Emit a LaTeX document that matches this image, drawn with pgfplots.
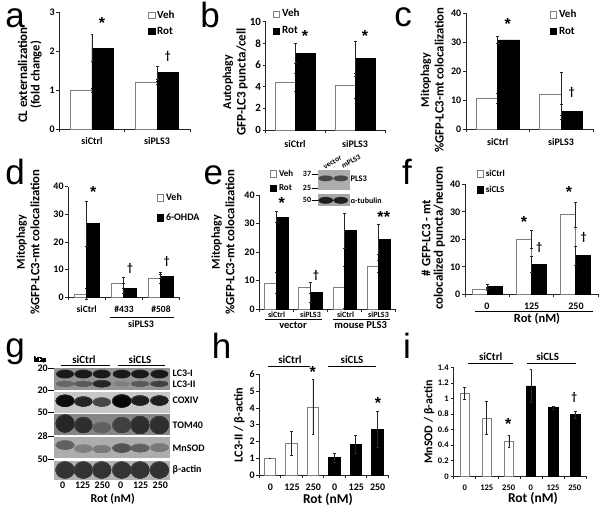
\documentclass[border=0pt]{standalone}
\usepackage{fontspec}
\setmainfont{Carlito}
\newfontfamily\arial{Liberation Sans}
\usepackage{pgfplots}
\pgfplotsset{compat=1.18}
\newcommand\fs[1]{\fontsize{#1}{#1}\selectfont}
\colorlet{bandin}{black}
\colorlet{bandout}{gray}
\pgfdeclareradialshading[bandin,bandout]{band}{\pgfpointorigin}{color(0bp)=(bandin); color(22bp)=(bandin); color(47bp)=(bandout); color(50bp)=(bandout)}
\newcommand\bnd[6]{% x y rx ry dark bg
 \colorlet{bandin}{black!#5}\colorlet{bandout}{black!#6}%
 \shade[shading=band] (#1,#2) ellipse (#3 and #4);}
\pgfplotsset{
 panel/.style={scale only axis, axis x line=bottom, axis y line=left,
  axis line style={-,line width=.7pt,black!85},
  tick style={black!85,line width=.6pt}, major tick length=3pt, tick align=outside,
  xticklabels={}, ymin=0, clip=false, scaled ticks=false,
  /pgf/number format/assume math mode=true,
  yticklabel style={font=\bfseries\fs{10}, inner sep=1.5pt},
  legend style={draw=none, fill=none, inner sep=0pt, outer sep=0pt, font=\bfseries\fs{11},
   column sep=2pt, cells={anchor=west}, nodes={inner sep=0pt, text height=7pt, text depth=2pt}}},
 lg/.style n args={3}{legend style={at={(#1,#2)},anchor=north west,row sep=#3pt}},
 base/.style={ybar, line width=.8pt, bar width=#1pt,
  legend image code/.code={\draw[##1,line width=.6pt] (0pt,-3pt) rectangle (6.5pt,3.5pt);},
  error bars/y dir=both, error bars/y explicit,
  error bars/error bar style={black!85,line width=.7pt,solid},
  error bars/error mark options={rotate=90,mark size=1.4pt,black!85,line width=.5pt}},
 veh/.style={base=#1, bar shift={-0.5*#1pt}, draw=black!50, fill=white},
 rot/.style={base=#1, bar shift={0.5*#1pt}, draw=black, fill=black},
 wh/.style={base=#1, bar shift=0pt, draw=black!50, fill=white},
 bl/.style={base=#1, bar shift=0pt, draw=black, fill=black},
}
\tikzset{
 t/.style={inner sep=0pt,outer sep=0pt,font=\bfseries\fs{#1}},
 t/.default=9,
 tl/.style={t=#1,anchor=west},
 lt/.style={inner sep=0pt,anchor=base,font=\arial\fs{35}},
}
\newcommand\st[2]{\node[inner sep=0pt,font=\arial\bfseries\fs{16}] at (#1,#2) {\raisebox{-3.5pt}{*}};}
\newcommand\dg[2]{\node[inner sep=0pt,font=\bfseries\fs{11.5}] at (#1,#2) {†};}
\begin{document}
\begin{tikzpicture}
\useasboundingbox (0,0) rectangle (600pt,511pt);
% a
\begin{axis}[panel, at={(59.3pt,382pt)}, width=130.7pt, height=116.7pt, xmin=-0.5, xmax=1.5, ymax=3, ytick={0,1,2,3}, xtick={-0.5,0.5,1.5}, lg={0.679}{1.011}{7}]
\addplot[veh=21.5] coordinates {(0,1.00) +- (0,0.05) (1,1.20) +- (0,0.04)};
\addplot[rot=21.5] coordinates {(0,2.08) +- (0,0.35) (1,1.45) +- (0,0.16)};
\legend{Veh,Rot}
\end{axis}
% b
\begin{axis}[panel, at={(265.7pt,381pt)}, width=119.3pt, height=108.3pt, xmin=-0.5, xmax=1.5, ymax=10, ytick={0,2,4,6,8,10}, xtick={-0.5,0.5,1.5}, lg={0.061}{1.108}{8}, yticklabel style={font=\bfseries\fs{11}}]
\addplot[veh=20] coordinates {(0,4.4) +- (0,0.85) (1,4.1) +- (0,1.15)};
\addplot[rot=20] coordinates {(0,7.1) +- (0,0.9) (1,6.6) +- (0,1.6)};
\legend{Veh,Rot}
\end{axis}
% c
\begin{axis}[panel, at={(466pt,381.7pt)}, width=127pt, height=116pt, xmin=-0.5, xmax=1.5, ymax=40, ytick={0,10,20,30,40}, xtick={-0.5,0.5,1.5}, lg={0.661}{1.022}{7.5}]
\addplot[veh=21.5] coordinates {(0,10.8) +- (0,1.8) (1,12.2) +- (0,7.4)};
\addplot[rot=21.5] coordinates {(0,30.8) +- (0,1.3) (1,6.2) +- (0,2.6)};
\legend{Veh,Rot}
\end{axis}
% d
\begin{axis}[panel, at={(68.3pt,213.7pt)}, width=111pt, height=110.6pt, xmin=-0.5, xmax=2.5, ymax=40, ytick={0,10,20,30,40}, xtick={-0.5,0.5,1.5,2.5}, lg={0.799}{0.94}{11}, legend style={font=\bfseries\fs{10}}]
\addplot[veh=12.5] coordinates {(0,1.2) +- (0,2.0) (1,5.2) +- (0,2.0) (2,7.0) +- (0,1.9)};
\addplot[rot=12.5] coordinates {(0,26.6) +- (0,8.3) (1,3.3) +- (0,1.9) (2,7.6) +- (0,0.8)};
\legend{Veh,6-OHDA}
\end{axis}
% e
\begin{axis}[panel, at={(259.3pt,201.7pt)}, width=136.4pt, height=114.3pt, xmin=-0.5, xmax=3.5, ymax=40, ytick={0,10,20,30,40}, xtick={-0.5,0.5,1.5,2.5,3.5}, lg={0.078}{1.223}{5.3}, legend style={font=\bfseries\fs{9}}]
\addplot[veh=11.6] coordinates {(0,9.2) +- (0,3.6) (1,7.6) +- (0,1.9) (2,7.8) +- (0,7.4) (3,15.0) +- (0,2.0)};
\addplot[rot=11.6] coordinates {(0,32.3) +- (0,2.0) (1,5.8) +- (0,3.5) (2,27.5) +- (0,6.1) (3,24.5) +- (0,5.2)};
\legend{Veh,Rot}
\end{axis}
% f
\begin{axis}[panel, at={(465pt,216.7pt)}, width=133pt, height=110pt, xmin=-0.5, xmax=2.5, ymax=40, ytick={0,10,20,30,40}, xtick={-0.5,0.5,1.5,2.5}, lg={0.088}{1.135}{7}, legend style={font=\bfseries\fs{9}}]
\addplot[veh=15] coordinates {(0,1.9) +- (0,0.5) (1,20.0) +- (0,3.2) (2,29.0) +- (0,4.6)};
\addplot[rot=15] coordinates {(0,3.0) +- (0,0.8) (1,10.8) +- (0,2.9) (2,14.0) +- (0,3.3)};
\legend{siCtrl,siCLS}
\end{axis}
% h
\begin{axis}[panel, at={(259.3pt,36pt)}, width=128.7pt, height=100.7pt, xmin=-0.5, xmax=5.5, ymax=6, ytick={0,1,2,3,4,5,6}, xtick={-0.5,0.5,1.5,2.5,3.5,4.5,5.5}]
\addplot[wh=11.3] coordinates {(0,1.00) +- (0,0.02) (1,1.88) +- (0,0.70) (2,4.05) +- (0,1.65)};
\addplot[bl=11.3] coordinates {(3,1.03) +- (0,0.26) (4,1.83) +- (0,0.51) (5,2.72) +- (0,1.07)};
\end{axis}
% i
\begin{axis}[panel, at={(453.5pt,34.7pt)}, width=133pt, height=109pt, xmin=-0.5, xmax=5.5, ymax=1.4, ytick={0,0.2,0.4,0.6,0.8,1,1.2,1.4}, yticklabels={0,0.2,0.4,0.6,0.8,1,1.2,1.4}, xtick={-0.5,0.5,1.5,2.5,3.5,4.5,5.5}, yticklabel style={font=\bfseries\fs{8.5}}]
\addplot[wh=9.3] coordinates {(0,1.07) +- (0,0.08) (1,0.75) +- (0,0.21) (2,0.45) +- (0,0.08)};
\addplot[bl=9.3] coordinates {(3,1.16) +- (0,0.21) (4,0.88) +- (0,0.015) (5,0.79) +- (0,0.05)};
\end{axis}
% annotations in reference pixel coordinates
\begin{scope}[x=1pt,y=-1pt,yshift=511pt]
% panel letters
\foreach \lett/\x/\y in {a/15/27.3,b/210/27.3,c/403/26.7,d/15/185,e/213.3/185,f/407/185,g/15/358,h/221.7/359,i/407/359}
 \node[lt] at (\x,\y) {\lett};
% y labels
\node[t=13,rotate=90] at (22.7,75) {CL externalization};
\node[t=12.5,rotate=90] at (36,75) {(fold change)};
\node[t=12,rotate=90] at (228,82) {Autophagy};
\node[t=13,rotate=90] at (242,82) {GFP-LC3 puncta/cell};
\node[t=12,rotate=90] at (426,80) {Mitophagy};
\node[t=12.7,rotate=90] at (439.3,80) {\%GFP-LC3-mt colocalization};
\node[t=12,rotate=90] at (21.7,242) {Mitophagy};
\node[t=12.7,rotate=90] at (35,242) {\%GFP-LC3-mt colocalization};
\node[t=12,rotate=90] at (216.7,242) {Mitophagy};
\node[t=12.7,rotate=90] at (230,242) {\%GFP-LC3-mt colocalization};
\node[t=12.7,rotate=90] at (426,238) {\# GFP-LC3 - mt};
\node[t=13,rotate=90] at (439.3,238) {colocalized puncta/neuron};
\node[t=12.3,rotate=90] at (239.3,425) {LC3-II / β-actin};
\node[t=12,rotate=90] at (429,422) {MnSOD / β-actin};
% category labels
\node[t=10] at (92,140.7) {siCtrl};
\node[t=10] at (157,140.7) {siPLS3};
\node[t=10] at (295,144) {siCtrl};
\node[t=10] at (355,144) {siPLS3};
\node[t=10] at (497.7,142.3) {siCtrl};
\node[t=10] at (561,142.3) {siPLS3};
\node[t=9.5] at (86.7,309) {siCtrl};
\node[t=9.5] at (124,309) {\#433};
\node[t=9.5] at (161,309) {\#508};
\draw[line width=.7pt] (110,317.7) -- (174.3,317.7);
\node[t=10] at (141,324.5) {siPLS3};
\node[t=8] at (276.5,314.3) {siCtrl};
\node[t=8] at (310.5,314.3) {siPLS3};
\node[t=8] at (345.5,314.3) {siCtrl};
\node[t=8] at (378.5,314.3) {siPLS3};
\draw[line width=.7pt] (265,319) -- (322,319);
\draw[line width=.7pt] (333,319) -- (390,319);
\node[t=10.5] at (293,325.5) {vector};
\node[t=10.6] at (360.7,325.5) {mouse PLS3};
\foreach \x/\s in {487/0,531.7/125,576/250} \node[t=10] at (\x,306) {\s};
\draw[line width=.7pt] (475,311) -- (593,311);
\node[t=12.5] at (537,318.5) {Rot (nM)};
% h, i labels
\foreach \x/\s in {270.5/0,292/125,313.3/250,334.7/0,356.3/125,377.7/250} \node[t=10] at (\x,487) {\s};
\node[t=13.5] at (328,500) {Rot (nM)};
\node[t=11] at (290,360) {siCtrl};
\node[t=11] at (352,360) {siCLS};
\draw[line width=.7pt] (268,366) -- (310,366);
\draw[line width=.7pt] (328,366) -- (376,366);
\foreach \x/\s in {464.7/0,486.8/125,508.7/250,530.8/0,553/125,574.8/250} \node[t=8.5] at (\x,487.7) {\s};
\node[t=13.5] at (533,498.5) {Rot (nM)};
\node[t=11] at (490.7,357) {siCtrl};
\node[t=11] at (547.7,357) {siCLS};
\draw[line width=.7pt] (467.7,363.3) -- (513.3,363.3);
\draw[line width=.7pt] (526.7,363.3) -- (576,363.3);
% significance marks
\st{102}{22.7}\dg{167.7}{56.7}
\st{305}{36}\st{365}{36}
\st{507.7}{24.3}\dg{571.7}{92.7}
\st{93.3}{191.7}\dg{130}{268.3}\dg{166.7}{261}
\st{281.7}{203.3}\dg{316}{275}\st{380.5}{217.3}\st{387}{217.3}
\st{524}{222.3}\dg{539.3}{247.7}\st{569}{192.3}\dg{583.7}{237.3}
\st{312.7}{372.3}\st{378}{402.7}
\st{508.3}{424.3}\dg{574.3}{397.7}
% blot e inset
\fill[black!32] (318.3,170) rectangle (350,190);
\fill[black!35] (318.3,194.3) rectangle (350,206);
\foreach \x in {325.7,340.7} {\bnd{\x}{178.3}{7.4}{3}{72}{32}\bnd{\x}{200.3}{7.4}{3.5}{88}{35}}
\node[t=7.5,rotate=30] at (332.5,162.3) {vector};
\node[t=7.5,rotate=30] at (351,161.7) {mPLS3};
\node[tl=8.5] at (350.5,178.5) {PLS3};
\node[tl=8] at (350.5,200.7) {α-tubulin};
\foreach \y/\s in {174/37,188.3/25,200/50} {\node[t=8] at (307,\y) {\s}; \draw[line width=.5pt] (311.5,\y) -- (318,\y);}
% blot g
\fill[black!42] (54,368.3) rectangle (170,390);
\fill[black!22] (54,391.7) rectangle (170,412.7);
\fill[black!48] (54,414.3) rectangle (170,435);
\fill[black!32] (54,436.7) rectangle (170,458.3);
\fill[black!30] (54,461) rectangle (170,480);
\foreach \x in {65,83.3,101.7,121.7,140,159.3} \bnd{\x}{374}{9}{4.5}{90}{42}
\bnd{65}{383.7}{9}{2.8}{60}{42}\bnd{83.3}{383.7}{9}{2.8}{65}{42}\bnd{101.7}{383.7}{9}{3.5}{85}{42}
\bnd{121.7}{383.7}{8}{2.5}{50}{42}\bnd{140}{383.7}{9}{2.8}{65}{42}\bnd{159.3}{383.7}{9}{2.8}{75}{42}
\bnd{65}{400.7}{9.3}{6}{95}{22}\bnd{83.3}{401.5}{9}{5}{85}{22}\bnd{101.7}{402}{9}{4.5}{72}{22}
\bnd{121.7}{401}{9.5}{6.5}{97}{22}\bnd{140}{400.5}{9}{5}{88}{22}\bnd{159.3}{400.5}{9}{5}{88}{22}
\bnd{65}{423.5}{9.3}{9}{85}{48}\bnd{83.3}{425}{9}{8}{82}{48}\bnd{101.7}{427.5}{9}{5.5}{62}{48}
\bnd{121.7}{425}{9.3}{8}{75}{48}\bnd{140}{425}{9.3}{9}{82}{48}\bnd{159.3}{425}{9.5}{9}{82}{48}
\bnd{65}{445}{9.3}{4.5}{62}{32}\bnd{83.3}{448.5}{9}{4}{50}{32}\bnd{101.7}{449}{9}{4}{52}{32}
\bnd{121.7}{448}{9.3}{4.5}{68}{32}\bnd{140}{448}{9.3}{4.2}{62}{32}\bnd{159.3}{447.5}{9.3}{4.2}{52}{32}
\foreach \x in {65,83.3,101.7,121.7,140,159.3} \bnd{\x}{470}{9.5}{8.5}{80}{30}
\node[t=7.5] at (40,360) {kDa};
\node[t=11] at (84,360) {siCtrl};
\node[t=11] at (140,360) {siCLS};
\draw[line width=.6pt] (60.7,365.7) -- (110,365.7);
\draw[line width=.6pt] (118.3,365.7) -- (165,365.7);
\foreach \y/\s in {368.3/20,390/20,412.7/50,436/28,459.3/50} {\node[t=10] at (42.7,\y) {\s}; \draw[line width=.5pt] (48,\y) -- (54,\y);}
\node[tl=10] at (172.7,373.7) {LC3-I};
\node[tl=10] at (172.7,384) {LC3-II};
\node[tl=10] at (172.7,400.7) {COXIV};
\node[tl=10] at (172.7,425.7) {TOM40};
\node[tl=10] at (172.7,448) {MnSOD};
\node[tl=10] at (172.7,470) {β-actin};
\foreach \x/\s in {62.7/0,82.7/125,102.3/250,120.7/0,140.7/125,160.3/250} \node[t=10] at (\x,485) {\s};
\node[t=12] at (112.7,499.3) {Rot (nM)};
\end{scope}
\end{tikzpicture}
\end{document}
